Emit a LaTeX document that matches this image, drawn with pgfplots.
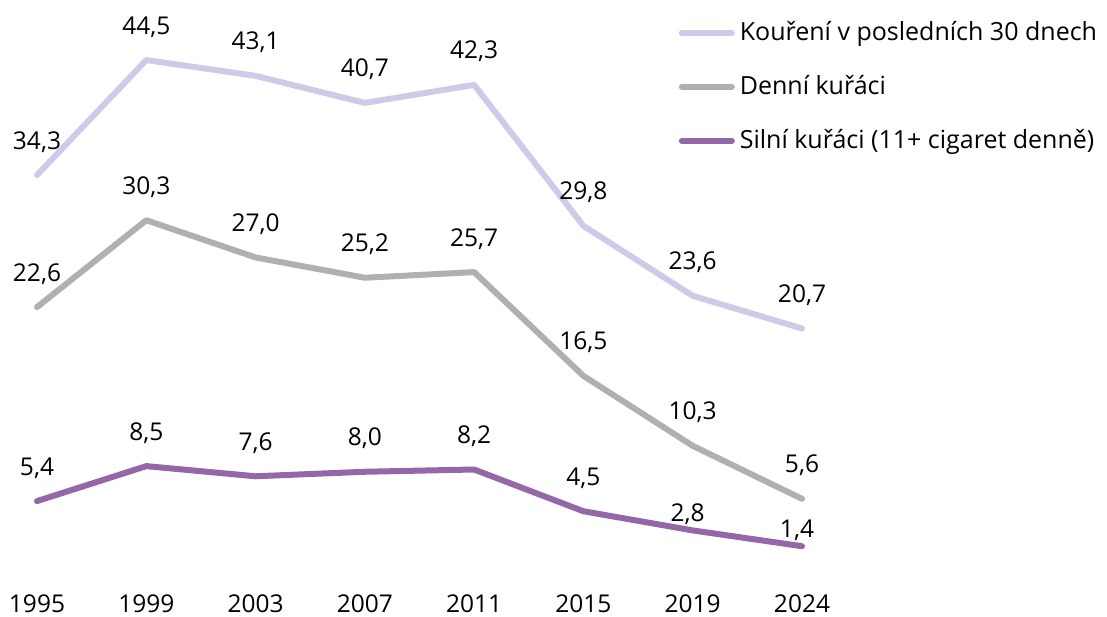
\documentclass[border=0pt]{standalone}
\usepackage{pgfplots}
\pgfplotsset{compat=1.18}
\usepackage{fontspec}
\setmainfont{Open Sans}
\definecolor{cLav}{HTML}{CCCCEA}
\definecolor{cGray}{HTML}{B0B0B0}
\definecolor{cPurp}{HTML}{9467A8}
\begin{document}
\begin{tikzpicture}
\useasboundingbox (0,0) rectangle (1107pt,616pt);
\begin{axis}[
  at={(37pt,54pt)}, anchor=south west,
  scale only axis, width=765pt, height=564pt,
  xmin=0, xmax=7, ymin=0, ymax=50,
  clip=false,
  axis line style={draw=none},
  tick style={draw=none},
  ytick=\empty,
  xtick={0,...,7},
  xticklabels={1995,1999,2003,2007,2011,2015,2019,2024},
  xticklabel style={anchor=base, yshift=-50pt, font=\fontsize{24.5}{29}\selectfont},
  /pgf/number format/.cd, fixed, fixed zerofill, precision=1, use comma, assume math mode=true,
  /pgfplots/.cd,
  nodes near coords,
  every node near coord/.append style={anchor=base, yshift=26pt, font=\fontsize{24.5}{29}\selectfont, text=black, inner sep=0pt},
  every axis plot/.append style={line width=6pt, line cap=round, line join=round, no marks},
  legend image code/.code={\draw[#1] (0pt,8pt) -- (50pt,8pt);},
  legend style={at={(rel axis cs:0.839,0.9557)}, anchor=north west, draw=none, fill=none,
    font=\fontsize{25}{30}\selectfont, row sep=31pt, inner sep=0pt, outer sep=0pt,
    nodes={inner sep=0pt, text height=18pt, text depth=5pt, anchor=base west},
    /tikz/every odd column/.style={column sep=5pt}},
  legend cell align=left,
]
\addplot[cLav] coordinates {(0,34.3) (1,44.5) (2,43.1) (3,40.7) (4,42.3) (5,29.8) (6,23.6) (7,20.7)};
\addlegendentry{Kouření v posledních 30 dnech}
\addplot[cGray] coordinates {(0,22.6) (1,30.3) (2,27.0) (3,25.2) (4,25.7) (5,16.5) (6,10.3) (7,5.6)};
\addlegendentry{Denní kuřáci}
\addplot[cPurp, coordinate style/.condition={x>5.5}{yshift=-17pt, xshift=-5pt}] coordinates {(0,5.4) (1,8.5) (2,7.6) (3,8.0) (4,8.2) (5,4.5) (6,2.8) (7,1.4)};
\addlegendentry{Silní kuřáci (11+ cigaret denně)}
\end{axis}
\end{tikzpicture}
\end{document}
